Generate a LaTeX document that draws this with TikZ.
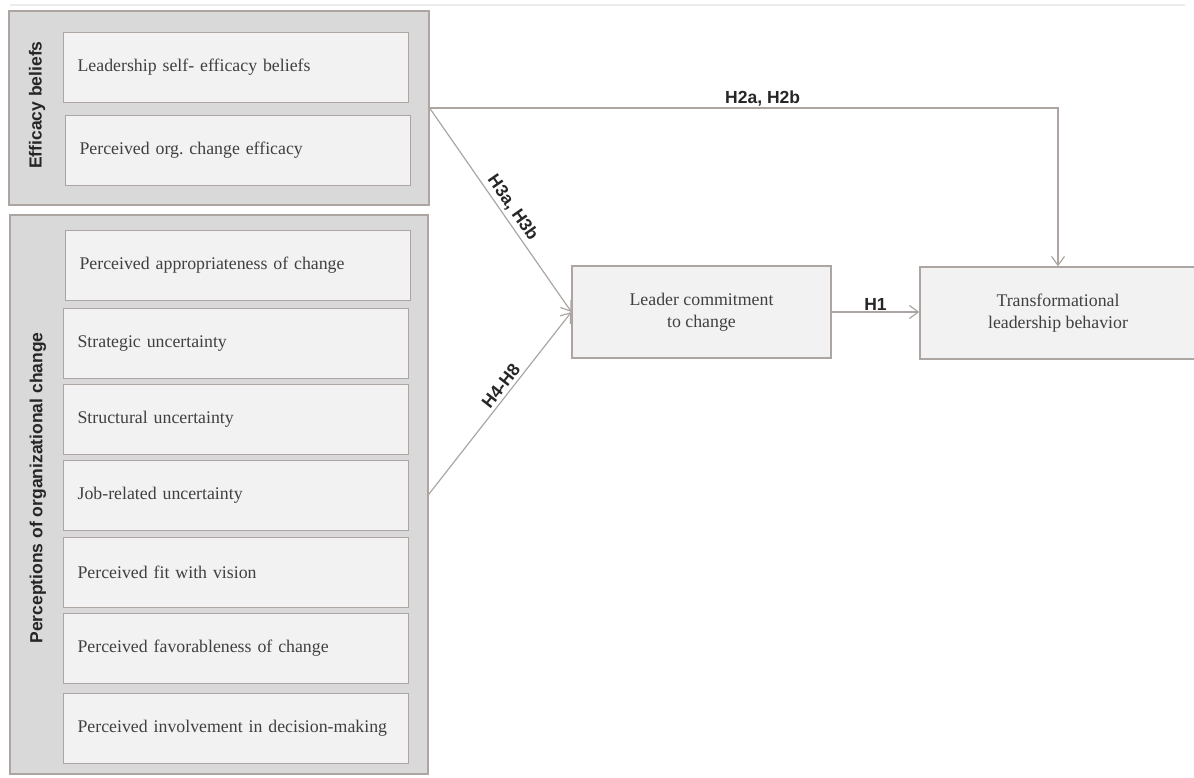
\documentclass[tikz,border=0pt]{standalone}
\usepackage{fontspec}
\setmainfont{Liberation Serif}
\setsansfont{Liberation Sans}
\usepackage{xcolor}
\usetikzlibrary{arrows.meta,positioning,calc}
\definecolor{groupbg}{HTML}{D9D9D9}
\definecolor{itembg}{HTML}{F2F2F2}
\definecolor{edge}{HTML}{ADA5A1}
\definecolor{ink}{HTML}{404040}
\definecolor{labelink}{HTML}{262626}
\definecolor{rulegray}{HTML}{ECECEC}
\tikzset{
  groupbox/.style={draw=edge,fill=groupbg,line width=1.2pt,inner sep=0pt},
  itembox/.style={draw=edge,fill=itembg,line width=1.2pt,
                  minimum height=70pt,text width=317pt,inner xsep=14pt,inner ysep=0pt,
                  align=left,anchor=north west,text=ink,
                  font=\fontsize{17.8}{20}\selectfont},
  mainbox/.style={draw=edge,fill=itembg,line width=1.2pt,
                  minimum height=92pt,align=center,text=ink,
                  font=\fontsize{17.8}{22}\selectfont},
  grouplabel/.style={rotate=90,text=labelink,
                     font=\sffamily\bfseries\fontsize{17.5}{20}\selectfont},
  hyplabel/.style={text=labelink,inner sep=1pt,
                   font=\sffamily\bfseries\fontsize{17.5}{20}\selectfont},
  patharr/.style={-{Straight Barb[length=9pt,width=13pt]},draw=edge,line width=1.2pt}
}

\begin{document}
\begin{tikzpicture}[x=1pt,y=-1pt]
  \useasboundingbox (0,0) rectangle (1194,778);
  \draw[rulegray,line width=1.5pt] (10,5) -- (1185,5);

  % the two groups of antecedents
  \node[groupbox,minimum width=420pt,minimum height=194pt] (effgroup) at (219,108) {};
  \node[groupbox,minimum width=418pt,minimum height=559pt] (percgroup) at (219,494.5) {};
  \node[grouplabel] (efflabel) at (37,105) {Efficacy beliefs};
  \node[grouplabel] (perclabel) at (38,488) {Perceptions of organizational change};

  \foreach \i/\x/\y/\txt in {1/63/32/Leadership self- efficacy beliefs,
                             2/65/115/Perceived org.\ change efficacy} {
    \node[itembox] (eff\i) at (\x,\y) {\txt};
  }
  \foreach \i/\x/\y/\txt in {1/65/230/Perceived appropriateness of change,
                             2/63/308/Strategic uncertainty,
                             3/63/384/Structural uncertainty,
                             4/63/460/Job-related uncertainty,
                             5/63/537/Perceived fit with vision,
                             6/63/613/Perceived favorableness of change,
                             7/63/693/Perceived involvement in decision-making} {
    \node[itembox] (perc\i) at (\x,\y) {\txt};
  }

  % mediator and outcome
  \node[mainbox,minimum width=259pt] (lead) at (701.5,312) {Leader commitment\\to change};
  \node[mainbox,minimum width=276pt] (trans) at (1058,313) {Transformational\\leadership behavior};

  \draw[patharr] (effgroup.east) -| node[hyplabel,pos=0.265,above] {H2a, H2b} (trans.north);
  \draw[patharr] (effgroup.east) -- node[hyplabel,pos=0.52,above=2pt,sloped] {H3a, H3b} (lead.west);
  \draw[patharr] (percgroup.east) -- node[hyplabel,pos=0.56,above=2pt,sloped] {H4-H8} (lead.west);
  \draw[patharr] (lead.east) -- node[hyplabel,midway,above] {H1} (lead.east -| trans.west);
\end{tikzpicture}
\end{document}
